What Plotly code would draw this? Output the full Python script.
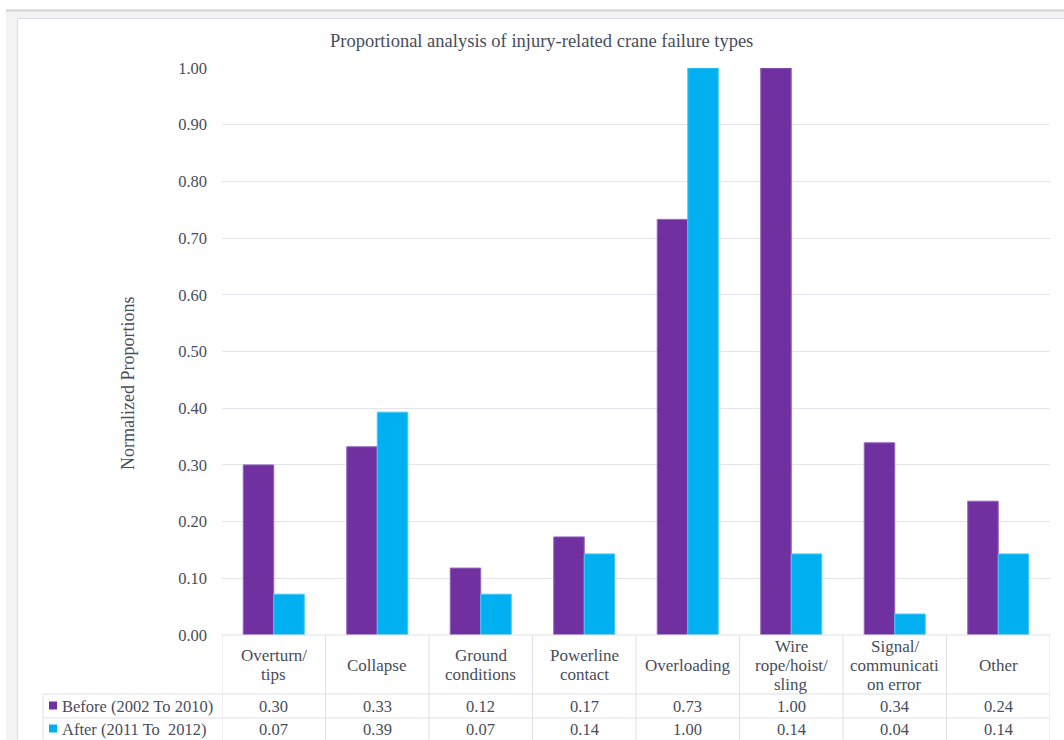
import plotly.graph_objects as go

# Failure categories (line breaks follow the data-table header)
categories = [
    "Overturn/<br>tips",
    "Collapse",
    "Ground<br>conditions",
    "Powerline<br>contact",
    "Overloading",
    "Wire<br>rope/hoist/<br>sling",
    "Signal/<br>communicati<br>on error",
    "Other",
]
series_names = ["Before (2002 To 2010)", "After (2011 To  2012)"]
before = [0.300, 0.332, 0.118, 0.173, 0.733, 1.000, 0.339, 0.236]
after = [0.072, 0.393, 0.072, 0.143, 1.000, 0.143, 0.037, 0.143]
y_ticks = [0.0, 0.1, 0.2, 0.3, 0.4, 0.5, 0.6, 0.7, 0.8, 0.9, 1.0]

PURPLE = "#7030A0"
CYAN = "#00B0F0"
TEXT = "#474d5c"
GRID = "#e3e4ec"
FONT = "Liberation Serif"

W, H = 1064, 740
L, R, T, B = 222, 1050, 68, 635  # plot area in pixels


def px(x):
    return (x - L) / (R - L)


def py(y):
    return (B - y) / (B - T)


idx = list(range(len(categories)))

fig = go.Figure()
fig.add_trace(go.Bar(x=idx, y=before, name=series_names[0],
                     marker=dict(color=PURPLE, line=dict(color="#9468bd", width=1))))
fig.add_trace(go.Bar(x=idx, y=after, name=series_names[1],
                     marker=dict(color=CYAN, line=dict(color="#4cc8f4", width=1))))

shapes = []
# outer container frame
shapes.append(dict(type="rect", xref="paper", yref="paper", x0=px(6), x1=px(1070),
                   y0=py(10), y1=py(745), fillcolor="#f3f3f3",
                   line=dict(width=0), layer="below"))
shapes.append(dict(type="line", xref="paper", yref="paper", x0=px(6), x1=px(1070),
                   y0=py(10.5), y1=py(10.5), line=dict(color="#d2d2d2", width=2), layer="below"))
shapes.append(dict(type="rect", xref="paper", yref="paper", x0=px(17.5), x1=px(1070),
                   y0=py(18.5), y1=py(745), fillcolor="white",
                   line=dict(color="#dcdde8", width=1), layer="below"))

# data table grid
tl = dict(color="#dfe0e9", width=1)
shapes.append(dict(type="line", xref="paper", yref="paper", x0=0, x1=1,
                   y0=py(635), y1=py(635), line=tl))
for yy in (694, 718):
    shapes.append(dict(type="line", xref="paper", yref="paper", x0=px(43), x1=1,
                       y0=py(yy), y1=py(yy), line=tl))
for i in range(len(categories) + 1):
    shapes.append(dict(type="line", xref="x", yref="paper", x0=i - 0.5, x1=i - 0.5,
                       y0=py(635), y1=py(742), line=tl))
shapes.append(dict(type="line", xref="paper", yref="paper", x0=px(43), x1=px(43),
                   y0=py(694), y1=py(742), line=tl))

# legend keys in the table rows
for yc, col in ((705.5, PURPLE), (728.5, CYAN)):
    shapes.append(dict(type="rect", xref="paper", yref="paper", x0=px(49), x1=px(57),
                       y0=py(yc - 4), y1=py(yc + 4), fillcolor=col, line=dict(width=0)))

annotations = []
annotations.append(dict(text="Proportional analysis of injury-related crane failure types",
                        xref="paper", yref="paper", x=px(541.5), y=py(41),
                        xanchor="center", yanchor="middle", showarrow=False,
                        font=dict(family=FONT, size=18.5, color=TEXT)))
annotations.append(dict(text="Normalized Proportions", xref="paper", yref="paper",
                        x=px(128), y=py(384), textangle=-90, xanchor="center",
                        yanchor="middle", showarrow=False,
                        font=dict(family=FONT, size=18, color=TEXT)))

LINE_STEP = 19  # spacing of header text lines
for i, c in enumerate(categories):
    lines = c.split("<br>")
    y0 = 665 - LINE_STEP * (len(lines) - 1) / 2
    for k, ln in enumerate(lines):
        annotations.append(dict(text=ln, xref="x", yref="paper", x=i,
                                y=py(y0 + k * LINE_STEP),
                                xanchor="center", yanchor="middle", showarrow=False,
                                font=dict(family=FONT, size=17, color=TEXT)))
    for vals, yc in ((before, 706), (after, 729)):
        annotations.append(dict(text=f"{vals[i]:.2f}", xref="x", yref="paper", x=i,
                                y=py(yc), xanchor="center", yanchor="middle",
                                showarrow=False,
                                font=dict(family=FONT, size=16.5, color=TEXT)))
for name, yc in zip(series_names, (706, 729)):
    annotations.append(dict(text=name.replace("  ", "&nbsp; "), xref="paper", yref="paper",
                            x=px(60), y=py(yc), xanchor="left", yanchor="middle",
                            showarrow=False, font=dict(family=FONT, size=16.5, color=TEXT)))

fig.update_layout(
    width=W, height=H,
    margin=dict(l=L, r=W - R, t=T, b=H - B, pad=0),
    paper_bgcolor="white",
    plot_bgcolor="rgba(0,0,0,0)",
    barmode="group",
    bargap=0.41,
    bargroupgap=0,
    showlegend=False,
    shapes=shapes,
    annotations=annotations,
    xaxis=dict(range=[-0.5, len(categories) - 0.5], showticklabels=False,
               showgrid=False, zeroline=False, showline=False, ticks=""),
    yaxis=dict(range=[0, 1.0], tickvals=y_ticks, tickformat=".2f",
               showgrid=True, gridcolor=GRID, gridwidth=1, zeroline=False,
               showline=False, ticks="", ticklabelstandoff=14,
               tickfont=dict(family=FONT, size=16.5, color=TEXT)),
)

fig.write_html("out.html")
